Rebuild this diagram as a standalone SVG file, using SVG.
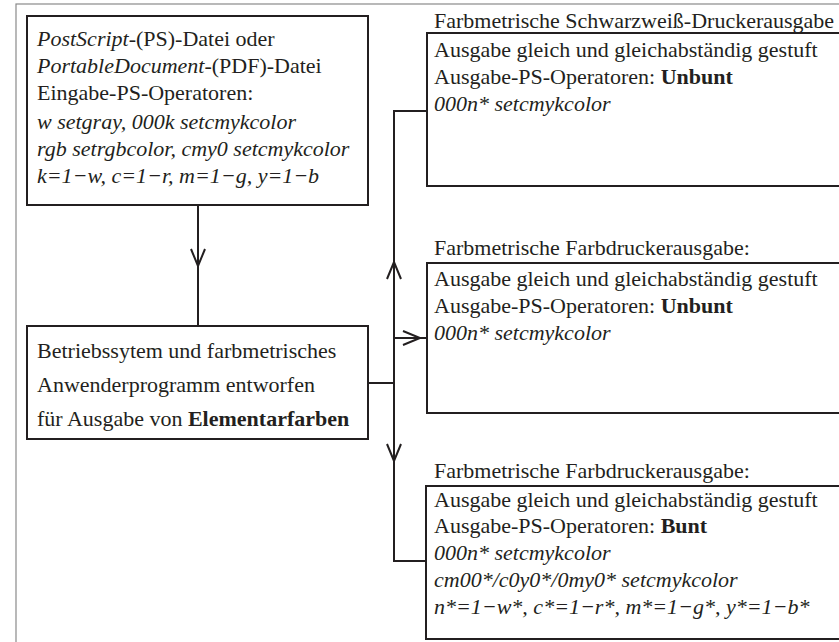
<svg xmlns="http://www.w3.org/2000/svg" width="839" height="642" viewBox="0 0 839 642" font-family="'Liberation Serif', 'Times New Roman', Times, serif">
<defs>
<style>
text{font-family:'Liberation Serif','Times New Roman',Times,serif;font-size:22px;fill:#231f20}
.it{font-style:italic}
.b{font-weight:bold}
.box{fill:#fff;stroke:#231f20;stroke-width:2}
.con{fill:none;stroke:#231f20;stroke-width:2}
</style>
<marker id="v" viewBox="0 0 20 16" refX="18" refY="8" markerWidth="20" markerHeight="16" markerUnits="userSpaceOnUse" orient="auto">
<path d="M1,1 L18,8 L1,15" fill="none" stroke="#231f20" stroke-width="2"/>
</marker>
</defs>
<rect x="16" y="4" width="840" height="660" fill="#fff" stroke="#8a8a8a" stroke-width="1.2"/>
<g id="connectors">
<path class="con" d="M198,205 V266" marker-end="url(#v)"/>
<path class="con" d="M198,266 V326"/>
<path class="con" d="M368,383 H394"/>
<path class="con" d="M394,383 V262" marker-end="url(#v)"/>
<path class="con" d="M394,262 V111 H427"/>
<path class="con" d="M394,338 H420" marker-end="url(#v)"/>
<path class="con" d="M420,338 H427"/>
<path class="con" d="M394,383 V461" marker-end="url(#v)"/>
<path class="con" d="M394,461 V561 H426"/>
</g>
<g id="input">
<rect class="box" x="27" y="16" width="341" height="189"/>
<text x="37" y="46"><tspan class="it">PostScript</tspan>-(PS)-Datei oder</text>
<text x="37" y="73"><tspan class="it">PortableDocument</tspan>-(PDF)-Datei</text>
<text x="37" y="100">Eingabe-PS-Operatoren:</text>
<text x="37" y="129" class="it">w setgray, 000k setcmykcolor</text>
<text x="37" y="156" class="it">rgb setrgbcolor, cmy0 setcmykcolor</text>
<text x="37" y="183" class="it">k=1−w, c=1−r, m=1−g, y=1−b</text>
</g>
<g id="system">
<rect class="box" x="27" y="326" width="341" height="113"/>
<text x="37" y="358">Betriebssytem und farbmetrisches</text>
<text x="37" y="392">Anwenderprogramm entworfen</text>
<text x="37" y="426">für Ausgabe von <tspan class="b">Elementarfarben</tspan></text>
</g>
<g id="sw-printer">
<text x="434" y="28">Farbmetrische Schwarzweiß-Druckerausgabe</text>
<rect class="box" x="427" y="33" width="430" height="153"/>
<text x="434" y="57">Ausgabe gleich und gleichabständig gestuft</text>
<text x="434" y="84">Ausgabe-PS-Operatoren: <tspan class="b">Unbunt</tspan></text>
<text x="434" y="111" class="it">000n* setcmykcolor</text>
</g>
<g id="color-printer-achromatic">
<text x="434" y="255">Farbmetrische Farbdruckerausgabe:</text>
<rect class="box" x="427" y="263" width="430" height="150"/>
<text x="434" y="286">Ausgabe gleich und gleichabständig gestuft</text>
<text x="434" y="313">Ausgabe-PS-Operatoren: <tspan class="b">Unbunt</tspan></text>
<text x="434" y="340" class="it">000n* setcmykcolor</text>
</g>
<g id="color-printer-chromatic">
<text x="434" y="478">Farbmetrische Farbdruckerausgabe:</text>
<rect class="box" x="426" y="486" width="430" height="153"/>
<text x="434" y="507">Ausgabe gleich und gleichabständig gestuft</text>
<text x="434" y="533">Ausgabe-PS-Operatoren: <tspan class="b">Bunt</tspan></text>
<text x="434" y="560" class="it">000n* setcmykcolor</text>
<text x="434" y="587" class="it">cm00*/c0y0*/0my0* setcmykcolor</text>
<text x="434" y="614" class="it">n*=1−w*, c*=1−r*, m*=1−g*, y*=1−b*</text>
</g>
</svg>
